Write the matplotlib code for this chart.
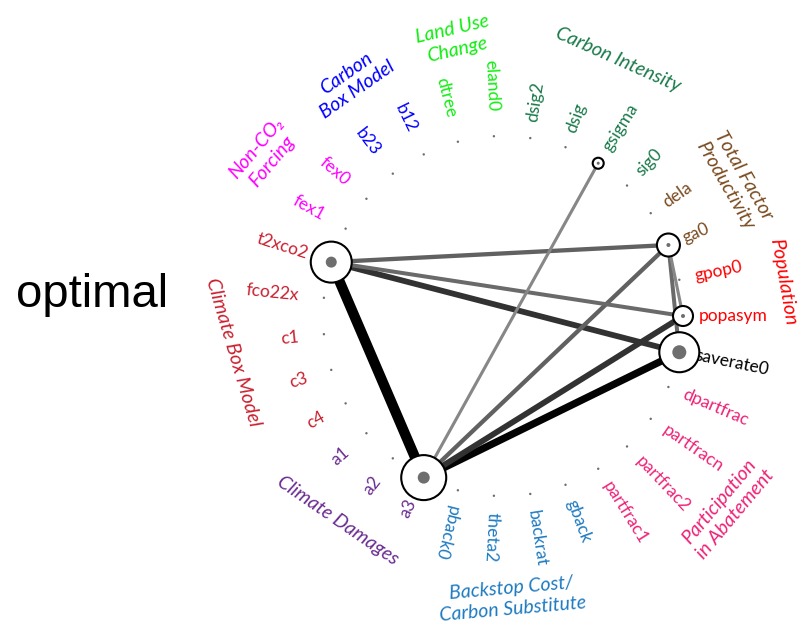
import numpy as np
import matplotlib.pyplot as plt
from matplotlib.patches import Circle

# parameters in counter-clockwise order, starting at 3 o'clock
params = ['popasym', 'gpop0', 'ga0', 'dela', 'sig0', 'gsigma', 'dsig', 'dsig2',
          'eland0', 'dtree', 'b12', 'b23', 'fex0', 'fex1', 't2xco2', 'fco22x',
          'c1', 'c3', 'c4', 'a1', 'a2', 'a3', 'pback0', 'theta2', 'backrat',
          'gback', 'partfrac1', 'partfrac2', 'partfracn', 'dpartfrac', 'saverate0']
groups = ['Population', 'Population', 'TFP', 'TFP', 'CI', 'CI', 'CI', 'CI',
          'LUC', 'LUC', 'CBM', 'CBM', 'NCO2', 'NCO2', 'CLM', 'CLM',
          'CLM', 'CLM', 'CLM', 'DMG', 'DMG', 'DMG', 'BS', 'BS', 'BS',
          'BS', 'PART', 'PART', 'PART', 'PART', None]

# first-order and total-order indices
first_order = [0.04, 0.0, 0.04, 0.0, 0.0, 0.03, 0.0, 0.0,
               0.0, 0.0, 0.0, 0.0, 0.0, 0.0, 0.11, 0.0,
               0.0, 0.0, 0.0, 0.0, 0.0, 0.12, 0.0, 0.0, 0.0,
               0.0, 0.0, 0.0, 0.0, 0.0, 0.14]
total_order = [0.20, 0.0, 0.23, 0.0, 0.0, 0.11, 0.0, 0.0,
               0.0, 0.0, 0.0, 0.0, 0.0, 0.0, 0.41, 0.0,
               0.0, 0.0, 0.0, 0.0, 0.0, 0.45, 0.0, 0.0, 0.0,
               0.0, 0.0, 0.0, 0.0, 0.0, 0.40]

# second-order interactions
pair_a = ['t2xco2', 'a3', 't2xco2', 'a3', 't2xco2', 'a3', 't2xco2', 'ga0', 'a3', 'ga0']
pair_b = ['a3', 'saverate0', 'saverate0', 'popasym', 'ga0', 'ga0', 'popasym', 'saverate0', 'gsigma', 'popasym']
second_order = [0.30, 0.20, 0.15, 0.15, 0.10, 0.10, 0.09, 0.09, 0.06, 0.06]

group_titles = {
    'NCO2': 'Non-CO\u2082\nForcing',
    'CBM': 'Carbon\nBox Model',
    'LUC': 'Land Use\nChange',
    'CI': 'Carbon Intensity',
    'TFP': 'Total Factor\nProductivity',
    'Population': 'Population',
    'PART': 'Participation\nin Abatement',
    'BS': 'Backstop Cost/\nCarbon Substitute',
    'DMG': 'Climate Damages',
    'CLM': 'Climate Box Model',
}
group_colors = {
    'NCO2': '#ff00ff', 'CBM': '#0000ff', 'LUC': '#11ee11', 'CI': '#1a7a4a',
    'TFP': '#7a4b20', 'Population': '#ff0000', 'PART': '#ee2277',
    'BS': '#1f7bc1', 'DMG': '#6a2c91', 'CLM': '#c9202f', None: 'black',
}
# where the group titles sit: angle (deg), radius, text rotation
group_place = {
    'NCO2': (145.9, 1.60, 50), 'CBM': (122.8, 1.55, 35), 'LUC': (99.9, 1.56, 13),
    'CI': (65.8, 1.56, -24), 'TFP': (30.4, 1.49, -60), 'Population': (6.9, 1.57, -80),
    'PART': (-40.5, 1.64, 50), 'BS': (-88.2, 1.57, 5), 'DMG': (231.0, 1.46, -34.5),
    'CLM': (187.6, 1.51, -73.5),
}

px = 180.0  # pixels per unit radius
fig = plt.figure(figsize=(8.04, 6.26), dpi=100)
ax = fig.add_axes([0, 0, 1, 1])
ax.set_xlim(-503 / px, (804 - 503) / px)
ax.set_ylim((316 - 626) / px, 316 / px)
ax.axis('off')

n = len(params)
angles = np.arange(n) * 360.0 / n
xs = np.cos(np.deg2rad(angles))
ys = np.sin(np.deg2rad(angles))
pos = {p: (xs[i], ys[i]) for i, p in enumerate(params)}

# interaction lines
for a, b, s in zip(pair_a, pair_b, second_order):
    w = (1.3 + 30 * s) * 0.72
    g = max(0.0, 0.75 - 3.7 * s)
    ax.plot([pos[a][0], pos[b][0]], [pos[a][1], pos[b][1]], lw=w,
            color=str(g), solid_capstyle='butt', zorder=1)

# nodes
for i, p in enumerate(params):
    x, y = pos[p]
    if total_order[i] > 0:
        ax.add_patch(Circle((x, y), total_order[i] * 50 / px, fc='white',
                            ec='black', lw=1.5, zorder=3))
    r = max(first_order[i] * 50, 1.2) / px
    ax.add_patch(Circle((x, y), r, fc='#6e6e6e', ec='none', zorder=4))

# parameter labels
for i, p in enumerate(params):
    a = angles[i]
    col = group_colors[groups[i]]
    if 90 < a < 250:
        rr = 1.14
        rot, ha = a - 180, 'right'
    else:
        rr = 1.09
        rot, ha = a, 'left'
    ax.text(rr * np.cos(np.deg2rad(a)), rr * np.sin(np.deg2rad(a)), p,
            rotation=rot, rotation_mode='anchor', ha=ha, va='center',
            fontsize=12.5, color=col, family=['Lato', 'DejaVu Sans'], zorder=2)

# group titles
for g, (a, rr, rot) in group_place.items():
    ax.text(rr * np.cos(np.deg2rad(a)), rr * np.sin(np.deg2rad(a)), group_titles[g],
            rotation=rot, rotation_mode='anchor', ha='center', va='center',
            multialignment='center', linespacing=1.25, fontsize=14,
            style='italic', color=group_colors[g], family=['Lato', 'DejaVu Sans'])

ax.text((16 - 503) / px, (316 - 306.7) / px, 'optimal', fontsize=34,
        ha='left', va='baseline', family=['Liberation Sans', 'DejaVu Sans'])

fig.savefig('out.png', dpi=100)
